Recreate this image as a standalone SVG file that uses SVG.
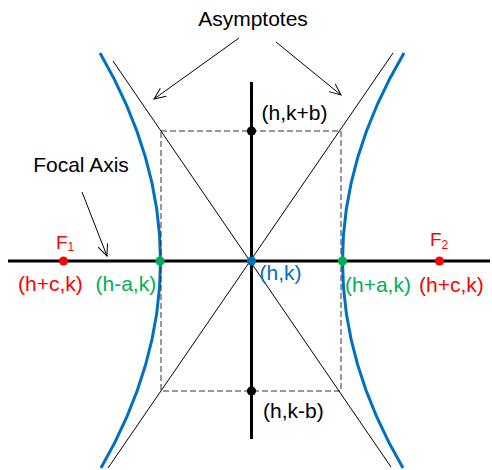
<svg xmlns="http://www.w3.org/2000/svg" width="492" height="470" viewBox="0 0 492 470">
<style>
.t{font-family:"Liberation Sans",Arial,sans-serif;font-size:21px}
.f{font-size:19px}
.sub{font-size:12px}
.blk{fill:#000}
.red{fill:#FF0000}
.grn{fill:#00B050}
.blu{fill:#0070C0}
.curve{fill:none;stroke:#0070C0;stroke-width:3}
.asym{fill:none;stroke:#000;stroke-width:1}
.axis{fill:none;stroke:#000;stroke-width:3}
.box{fill:none;stroke:#333;stroke-width:1;stroke-dasharray:6,3}
.ptr{fill:none;stroke:#000;stroke-width:1;marker-end:url(#open)}
</style>
<defs>
<marker id="open" markerUnits="userSpaceOnUse" markerWidth="13" markerHeight="13" viewBox="0 0 13 13" refX="12" refY="6.5" orient="auto">
<path d="M0.5,1.5 L12,6.5 L0.5,11.5" fill="none" stroke="#000" stroke-width="1"/>
</marker>
</defs>
<g id="hyperbola">
<path class="curve" d="M100,53 Q160.5,157 160.5,261 Q160.5,365 101,468"/>
<path class="curve" d="M404,53 Q342.5,157 342.5,261 Q342.5,365 403,468"/>
</g>
<g id="box">
<rect class="box" x="161" y="131" width="180" height="260"/>
</g>
<g id="asymptotes">
<line class="asym" x1="113" y1="61" x2="391" y2="467"/>
<line class="asym" x1="393" y1="53" x2="108" y2="468"/>
</g>
<g id="axes">
<line class="axis" x1="8" y1="261" x2="490" y2="261"/>
<line class="axis" x1="251.5" y1="82" x2="251.5" y2="439"/>
</g>
<g id="connectors">
<line class="ptr" x1="239" y1="38" x2="154" y2="99"/>
<line class="ptr" x1="276" y1="42" x2="341" y2="95"/>
<line class="ptr" x1="82" y1="192" x2="107" y2="256"/>
</g>
<g id="F1">
<circle class="red" cx="63.5" cy="261" r="4.6"/>
<text class="t f red" x="56" y="249">F<tspan class="sub" dy="2">1</tspan></text>
<text class="t red" x="18" y="291">(h+c,k)</text>
</g>
<g id="V1">
<circle class="grn" cx="160" cy="261" r="4.6"/>
<text class="t grn" x="95.5" y="291">(h-a,k)</text>
</g>
<g id="center">
<circle class="blu" cx="251.5" cy="261" r="4.6"/>
<text class="t blu" x="259.5" y="280">(h,k)</text>
</g>
<g id="V2">
<circle class="grn" cx="342.5" cy="261" r="4.6"/>
<text class="t grn" x="345" y="292">(h+a,k)</text>
</g>
<g id="F2">
<circle class="red" cx="439.5" cy="261" r="4.6"/>
<text class="t f red" x="430" y="246">F<tspan class="sub" dy="2.5">2</tspan></text>
<text class="t red" x="419" y="292">(h+c,k)</text>
</g>
<g id="top">
<circle class="blk" cx="251.5" cy="131" r="4.6"/>
<text class="t blk" x="261.5" y="120">(h,k+b)</text>
</g>
<g id="bottom">
<circle class="blk" cx="251.5" cy="391" r="4.6"/>
<text class="t blk" x="263" y="418">(h,k-b)</text>
</g>
<g id="labels">
<text class="t blk" x="253" y="26" text-anchor="middle">Asymptotes</text>
<text class="t blk" x="81" y="171.5" text-anchor="middle">Focal Axis</text>
</g>
</svg>
